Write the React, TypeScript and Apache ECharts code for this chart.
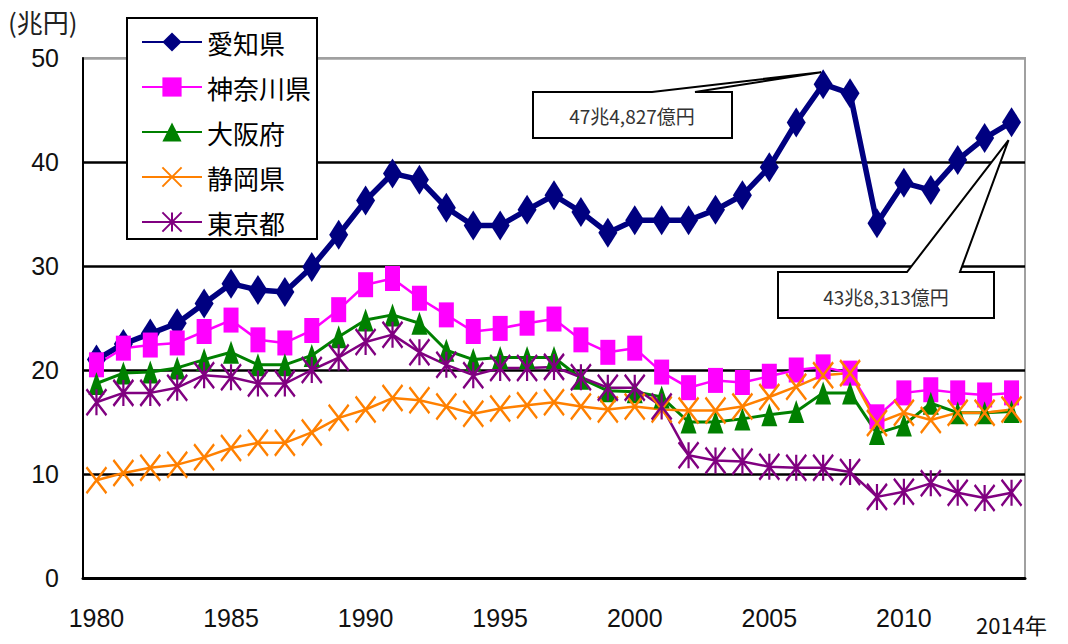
import React, { useEffect, useRef } from "react";
import * as echarts from "echarts";

const years = [
  "1980", "1981", "1982", "1983", "1984", "1985", "1986", "1987", "1988", "1989",
  "1990", "1991", "1992", "1993", "1994", "1995", "1996", "1997", "1998", "1999",
  "2000", "2001", "2002", "2003", "2004", "2005", "2006", "2007", "2008", "2009",
  "2010", "2011", "2012", "2013", "2014",
];

const aichi = [
  21, 22.5, 23.5, 24.5, 26.4, 28.3, 27.7, 27.5, 29.9, 33,
  36.3, 38.9, 38.3, 35.6, 33.9, 33.9, 35.4, 36.8, 35.2, 33.2,
  34.4, 34.4, 34.4, 35.4, 36.8, 39.5, 43.8, 47.48, 46.6, 34.1,
  38, 37.3, 40.2, 42.3, 43.83,
];
const kanagawa = [
  20.5, 22.1, 22.4, 22.6, 23.7, 24.8, 22.9, 22.6, 23.8, 25.8,
  28.2, 28.8, 26.9, 25.3, 23.7, 24.0, 24.5, 24.9, 22.9, 21.7,
  22.1, 19.8, 18.3, 19.0, 18.8, 19.4, 20.0, 20.3, 19.7, 15.5,
  17.8, 18.1, 17.8, 17.6, 17.8,
];
const osaka = [
  18.7, 19.7, 19.8, 20.2, 21.0, 21.7, 20.5, 20.5, 21.4, 23.2,
  24.8, 25.3, 24.5, 21.9, 21.0, 21.2, 21.2, 21.2, 19.2, 18.0,
  17.9, 17.4, 15.0, 15.0, 15.3, 15.7, 16.0, 17.8, 17.8, 13.9,
  14.7, 16.8, 15.9, 15.9, 16.0,
];
const shizuoka = [
  9.4, 10.1, 10.6, 10.9, 11.6, 12.5, 13.0, 13.0, 14.0, 15.4,
  16.2, 17.3, 17.1, 16.5, 15.8, 16.3, 16.6, 16.9, 16.5, 16.2,
  16.5, 16.2, 16.1, 16.1, 16.5, 17.4, 18.4, 19.5, 19.7, 14.9,
  15.9, 15.2, 15.9, 15.9, 16.2,
];
const tokyo = [
  16.9, 17.8, 17.8, 18.3, 19.5, 19.3, 18.7, 18.7, 20.0, 21.2,
  22.7, 23.4, 21.7, 20.5, 19.5, 20.2, 20.2, 20.3, 19.3, 18.3,
  18.3, 16.5, 11.8, 11.3, 11.2, 10.7, 10.6, 10.6, 10.2, 7.8,
  8.3, 9.1, 8.2, 7.7, 8.2,
];

const seriesNames = ["愛知県", "神奈川県", "大阪府", "静岡県", "東京都"];
const yTicks = [0, 10, 20, 30, 40, 50];
const note1 = { year: "2007", value: 47.48, text: "47兆4,827億円" };
const note2 = { year: "2014", value: 43.83, text: "43兆8,313億円" };

const NUM = '"Liberation Sans", "Arimo", sans-serif';
const CJK = '"Noto Sans CJK JP", "Noto Sans", sans-serif';

export default function App() {
  const ref = useRef<HTMLDivElement>(null);
  useEffect(() => {
    if (!ref.current) return;
    const chart = echarts.init(ref.current, undefined, { renderer: "svg" });
    const mk = (name: string, data: number[], color: string, symbol: string, size: any, width: number, stroke?: boolean) => ({
      name,
      type: "line",
      data,
      symbol,
      symbolSize: size,
      symbolKeepAspect: false,
      showSymbol: true,
      showAllSymbol: true,
      lineStyle: { color, width },
      itemStyle: stroke
        ? { color, borderColor: color, borderWidth: 2.5 }
        : { color, borderWidth: 0 },
      emphasis: { disabled: true },
    });
    const unitLabel = {
      type: "text",
      left: 8,
      top: 8,
      style: { text: "(兆円)", fontSize: 26, fontFamily: CJK, fill: "#222" },
    };
    chart.setOption({
      animation: false,
      backgroundColor: "#fff",
      grid: { left: 83, right: 43, top: 58, bottom: 66, show: true, borderColor: "#a0a0a0", borderWidth: 2 },
      legend: {
        orient: "vertical",
        left: 127,
        top: 18,
        backgroundColor: "#fff",
        borderColor: "#000",
        borderWidth: 2,
        padding: [11, 6, 4, 14],
        itemGap: 19,
        itemWidth: 60,
        itemHeight: 24,
        data: seriesNames,
        textStyle: { fontSize: 26, fontFamily: CJK, color: "#000" },
      },
      xAxis: {
        type: "category",
        data: years,
        boundaryGap: true,
        axisLine: { lineStyle: { color: "#000", width: 3 } },
        axisTick: { inside: true, length: 7, lineStyle: { color: "#000", width: 1.5 }, interval: 0 },
        axisLabel: {
          interval: (i: number) => i % 5 === 0 || i === years.length - 1,
          formatter: (v: string, i: number) => (i === years.length - 1 ? "{e|" + v + "年}" : v),
          fontFamily: NUM,
          fontSize: 25,
          color: "#111",
          margin: 27,
          rich: { e: { fontFamily: CJK, fontSize: 22, color: "#111", padding: [8, 0, 0, 0] } },
        },
      },
      yAxis: {
        type: "value",
        min: yTicks[0],
        max: yTicks[yTicks.length - 1],
        interval: 10,
        axisLine: { show: true, lineStyle: { color: "#000", width: 2 } },
        axisTick: { show: false },
        axisLabel: { fontFamily: NUM, fontSize: 25, color: "#111", margin: 24 },
        splitLine: { lineStyle: { color: ["#000", "#000", "#000", "#000", "#000", "#a0a0a0"], width: 2.5 } },
      },
      series: [
        mk(seriesNames[0], aichi, "#000080", "diamond", [19, 30], 5.5),
        mk(seriesNames[1], kanagawa, "#ff00ff", "rect", [15, 25], 2.5),
        mk(seriesNames[2], osaka, "#008000", "triangle", [16, 23], 3),
        mk(seriesNames[3], shizuoka, "#ff8000", "path://M0,0L20,26M20,0L0,26", [20, 26], 2.5, true),
        mk(seriesNames[4], tokyo, "#800080", "path://M10,0L10,26M0,0L20,26M20,0L0,26", [20, 26], 2.5, true),
      ],
      graphic: [unitLabel],
    });

    const t1 = chart.convertToPixel({ gridIndex: 0 }, [note1.year, note1.value]) as number[];
    const t2 = chart.convertToPixel({ gridIndex: 0 }, [note2.year, note2.value]) as number[];
    const tip1 = [t1[0] - 2, t1[1] - 12];
    const tip2 = [t2[0] - 3, t2[1] + 18];
    chart.setOption({
      graphic: [
        unitLabel,
        {
          type: "polygon",
          z: 10,
          shape: { points: [[533, 92], [652, 92], tip1, [695, 92], [732, 92], [732, 138], [533, 138]] },
          style: { fill: "#fff", stroke: "#000", lineWidth: 2 },
        },
        {
          type: "text",
          z: 11,
          x: 632,
          y: 115,
          style: { text: note1.text, fontSize: 19, fontFamily: CJK, fill: "#333", align: "center", verticalAlign: "middle" },
        },
        {
          type: "polygon",
          z: 10,
          shape: { points: [[778, 272], [907, 272], tip2, [960, 272], [994, 272], [994, 318], [778, 318]] },
          style: { fill: "#fff", stroke: "#000", lineWidth: 2 },
        },
        {
          type: "text",
          z: 11,
          x: 886,
          y: 296,
          style: { text: note2.text, fontSize: 19, fontFamily: CJK, fill: "#333", align: "center", verticalAlign: "middle" },
        },
      ],
    });
    return () => chart.dispose();
  }, []);
  return <div ref={ref} style={{ position: "absolute", left: 0, top: 0, width: 1068, height: 644 }} />;
}
